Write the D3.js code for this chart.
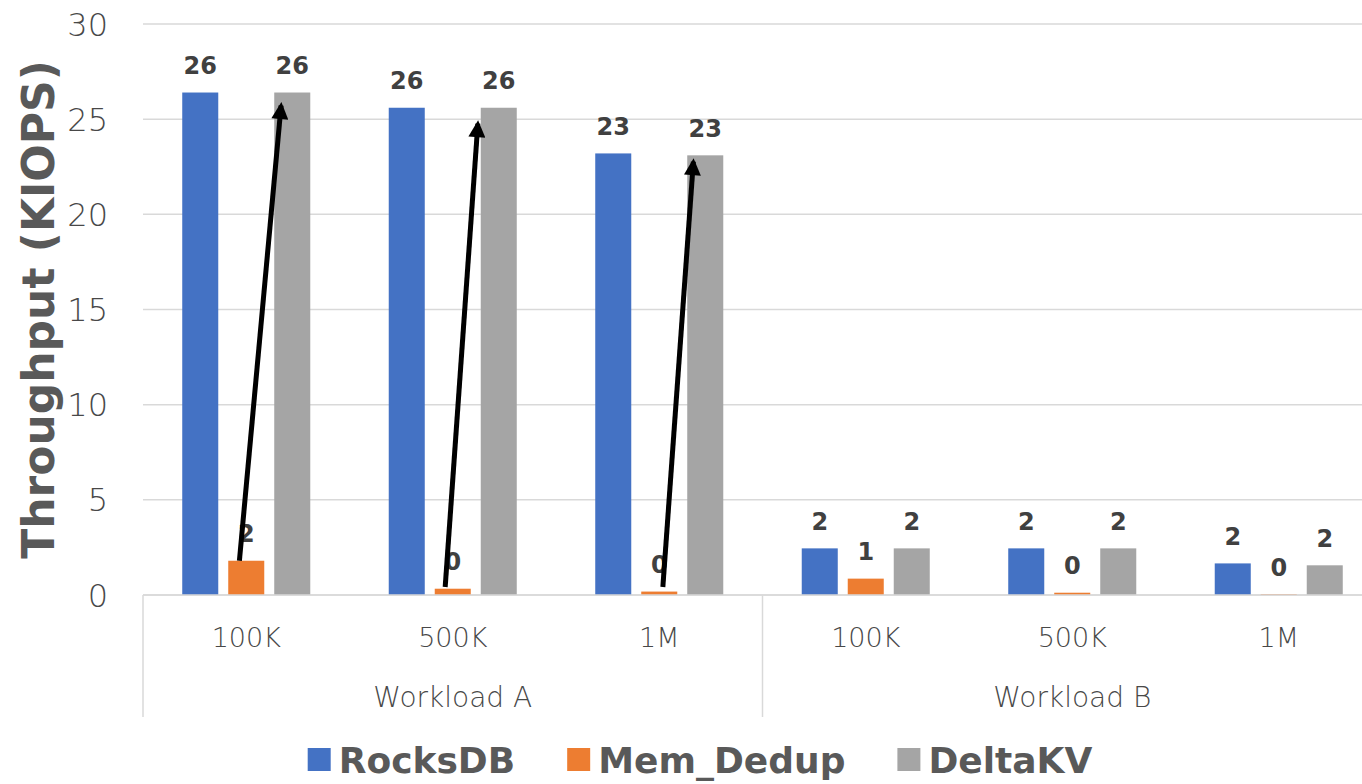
<!DOCTYPE html>
<html>
<head>
<meta charset="utf-8">
<script src="https://cdn.jsdelivr.net/npm/d3@7"></script>
<style>
  body { margin: 0; background: #fff; }
  svg { display: block; }
</style>
</head>
<body>
<div class="chart"></div>
<script>
// data
const categories = ['100K', '500K', '1M', '100K', '500K', '1M']
const workloads = ['Workload A', 'Workload B']
const series = ['RocksDB', 'Mem_Dedup', 'DeltaKV']
const colors = ['#4472C4', '#ED7D31', '#A5A5A5']

const rocksdb = [26.4, 25.6, 23.2, 2.45, 2.45, 1.66]
const memDedup = [1.8, 0.33, 0.18, 0.86, 0.12, 0.04]
const deltakv = [26.4, 25.6, 23.1, 2.45, 2.45, 1.56]

const yTicks = [0, 5, 10, 15, 20, 25, 30]

// arrows: from Mem_Dedup bar to DeltaKV bar in workload A
const arrowCats = [0, 1, 2]
const arrowFromFrac = [0.31, 0.29, 0.6]
const arrowFromVal = [1.8, 0.42, 0.42]
const arrowToFrac = [0.19, -0.08, 0.17]
const arrowToVal = [26.35, 25.4, 23.4]

const values = [rocksdb, memDedup, deltakv]

const W = 1362, H = 784
const left = 143, groupW = 206.5
const svg = d3.select('.chart').append('svg')
  .attr('width', W).attr('height', H)

const x0 = d3.scaleBand()
  .domain(d3.range(categories.length))
  .range([left, left + groupW * categories.length])

const x1 = d3.scaleBand()
  .domain(series)
  .range([0, groupW])
  .paddingInner(0.217)
  .paddingOuter(0.853)

const y = d3.scaleLinear().domain([0, 30]).range([595, 24])

const grey = '#595959'

// gridlines
svg.append('g').selectAll('line')
  .data(yTicks)
  .enter().append('line')
  .attr('x1', left).attr('x2', W)
  .attr('y1', d => y(d)).attr('y2', d => y(d))
  .attr('stroke', '#d9d9d9').attr('stroke-width', 1.5)

// y tick labels
svg.append('g').selectAll('text')
  .data(yTicks)
  .enter().append('text')
  .attr('x', 108).attr('y', d => y(d))
  .attr('dy', '0.36em')
  .attr('text-anchor', 'end')
  .style('font-family', 'DejaVu Sans')
  .style('font-weight', 300)
  .style('font-size', '32px')
  .attr('fill', '#484848')
  .text(d => d)

// y title
svg.append('text')
  .attr('transform', `translate(38,${(y(0) + y(30)) / 2}) rotate(-90)`)
  .attr('dy', '0.36em')
  .attr('text-anchor', 'middle')
  .style('font-family', 'DejaVu Sans')
  .style('font-weight', 'bold')
  .style('font-size', '44px')
  .attr('fill', grey)
  .text('Throughput (KIOPS)')

// bars
let groups = svg.append('g').selectAll('g')
  .data(d3.range(categories.length))
  .enter().append('g')
  .attr('transform', i => `translate(${x0(i)},0)`)

groups.selectAll('rect')
  .data(i => series.map((s, k) => ({ s, k, v: values[k][i] })))
  .enter().append('rect')
  .attr('x', d => x1(d.s))
  .attr('width', x1.bandwidth())
  .attr('y', d => y(d.v))
  .attr('height', d => y(0) - y(d.v))
  .attr('fill', d => colors[d.k])

// value labels
groups.selectAll('text')
  .data(i => series.map((s, k) => ({ s, k, v: values[k][i] })))
  .enter().append('text')
  .attr('x', d => x1(d.s) + x1.bandwidth() / 2)
  .attr('y', d => y(d.v) - 27)
  .attr('dy', '0.36em')
  .attr('text-anchor', 'middle')
  .style('font-family', 'DejaVu Sans')
  .style('font-weight', 'bold')
  .style('font-size', '24px')
  .attr('fill', '#404040')
  .text(d => d3.format('.0f')(d.v))

// category axis
svg.append('line')
  .attr('x1', left).attr('x2', W)
  .attr('y1', y(0)).attr('y2', y(0))
  .attr('stroke', '#d9d9d9').attr('stroke-width', 1.5)

svg.append('g').selectAll('line')
  .data([0, 3, 6])
  .enter().append('line')
  .attr('x1', i => left + groupW * i).attr('x2', i => left + groupW * i)
  .attr('y1', y(0)).attr('y2', 717)
  .attr('stroke', '#d9d9d9').attr('stroke-width', 1.5)

svg.append('g').selectAll('text')
  .data(categories)
  .enter().append('text')
  .attr('x', (d, i) => x0(i) + groupW / 2)
  .attr('y', 637)
  .attr('dy', '0.36em')
  .attr('text-anchor', 'middle')
  .style('font-family', 'DejaVu Sans')
  .style('font-weight', 300)
  .style('font-size', '27px')
  .attr('fill', '#484848')
  .text(d => d)

svg.append('g').selectAll('text')
  .data(workloads)
  .enter().append('text')
  .attr('x', (d, i) => left + groupW * (3 * i + 1.5))
  .attr('y', 697)
  .attr('dy', '0.36em')
  .attr('text-anchor', 'middle')
  .style('font-family', 'DejaVu Sans')
  .style('font-weight', 300)
  .style('font-size', '28px')
  .attr('fill', '#484848')
  .text(d => d)

// arrows
svg.append('defs').append('marker')
  .attr('id', 'head')
  .attr('viewBox', '0 0 10 10')
  .attr('refX', 8).attr('refY', 5)
  .attr('markerUnits', 'userSpaceOnUse')
  .attr('markerWidth', 18).attr('markerHeight', 17)
  .attr('orient', 'auto')
  .append('path')
  .attr('d', 'M0,0 L10,5 L0,10 z')
  .attr('fill', '#000')

svg.append('g').selectAll('line')
  .data(arrowCats)
  .enter().append('line')
  .attr('x1', (c, i) => x0(c) + x1('Mem_Dedup') + x1.bandwidth() * arrowFromFrac[i])
  .attr('y1', (c, i) => y(arrowFromVal[i]))
  .attr('x2', (c, i) => x0(c) + x1('DeltaKV') + x1.bandwidth() * arrowToFrac[i])
  .attr('y2', (c, i) => y(arrowToVal[i]) + 12)
  .attr('stroke', '#000')
  .attr('stroke-width', 5)
  .attr('marker-end', 'url(#head)')

// legend
const legend = svg.append('g')
let lx = 0
let items = legend.selectAll('g')
  .data(series)
  .enter().append('g')

items.append('rect')
  .attr('width', 23).attr('height', 23)
  .attr('y', 748)
  .attr('fill', (d, i) => colors[i])

items.append('text')
  .attr('x', 31).attr('y', 773)
  .style('font-family', 'DejaVu Sans')
  .style('font-weight', 'bold')
  .style('font-size', '36px')
  .attr('fill', grey)
  .text(d => d)

items.each(function () {
  d3.select(this).attr('transform', `translate(${lx},0)`)
  lx += 31 + d3.select(this).select('text').node().getComputedTextLength() + 52
})
lx -= 52
legend.attr('transform', `translate(${700 - lx / 2},0)`)
</script>
</body>
</html>
